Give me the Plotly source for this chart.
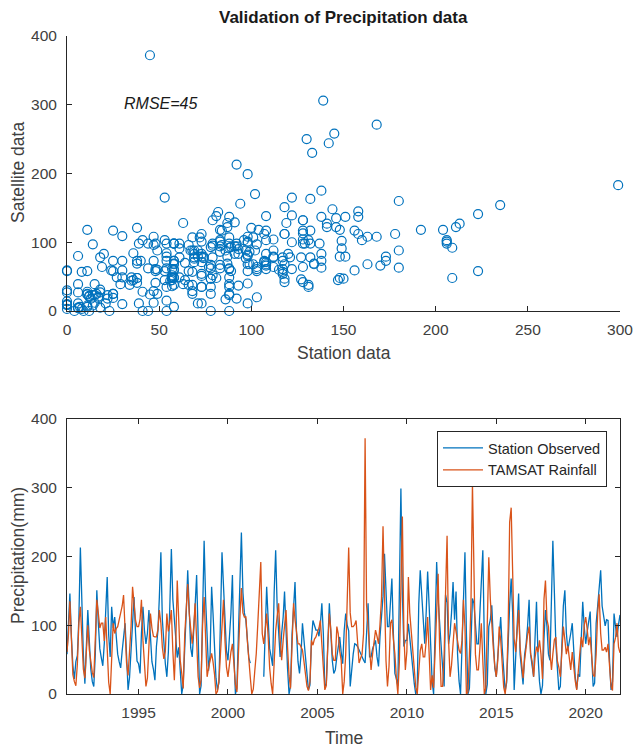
import pandas as pd
import plotly.graph_objects as go

# Monthly rainfall totals (mm), Jan 1991 - Dec 2021, one row per year.
# None = station record missing.
station_mm = [
    58, 97, 146, 83, 41, 22, 47, 56, 112, 213, 117, 57,       # 1991
    15, 68, 122, 77, 36, 18, 11, 58, 151, 104, 66, 53,        # 1992
    41, 74, 118, 170, 86, 54, 127, 96, 112, 79, 58, 47,       # 1993
    38, 63, 82, 103, 57, 6, 24, 61, 94, 141, 88, 48,          # 1994
    44, 30, 88, 127, 93, 73, 88, 122, 84, 47, 36, 20,         # 1995
    69, 92, 141, 206, 108, 73, 44, 25, 61, 128, 211, 138,     # 1996
    103, 74, 53, 68, 27, 0, 14, 83, 119, 180, 108, 67,        # 1997
    54, 88, 128, 173, 78, 0, 12, 98, 223, 138, 68, 34,        # 1998
    57, 156, 118, 68, 23, 6, 17, 108, 206, 158, 97, 63,       # 1999
    49, 78, 117, 173, 58, 0, 8, 87, 158, 235, 148, 118,       # 2000
    107, 69, 53, 45, None, None, None, None, None, None, None, None,  # 2001
    25, 83, 156, 108, 66, 54, 41, 147, 209, 128, 79, 54,      # 2002
    88, 112, 149, 87, 38, 0, 11, 86, 128, 163, 88, 47,        # 2003
    30, 58, 103, 78, 47, 21, 6, 13, 79, 107, 98, 93,          # 2004
    93, 84, 101, 132, 88, 11, 15, 69, 132, 89, 48, 30,        # 2005
    35, 54, 71, 83, 61, 44, 92, 117, 100, 92, 11, 39,         # 2006
    58, 73, 72, 69, 64, 57, 53, 49, 45, 91, 132, 54,          # 2007
    54, 66, 71, 78, 54, 40, 83, 122, 142, 204, 148, 98,       # 2008
    98, 131, 168, 87, 30, 22, 12, 150, 299, 145, 69, 78,      # 2009
    78, 102, 83, 68, 38, 15, 0, 9, 131, 180, 138, 117,        # 2010
    73, 121, 178, 128, 58, 18, 0, 88, 192, 138, 98, 71,       # 2011
    39, 11, 144, 133, 73, 88, 118, 163, 108, 149, 58, 19,     # 2012
    0, 61, 138, 206, 88, 0, 8, 87, 139, 132, 98, 73,          # 2013
    73, 118, 160, 209, 78, 0, 14, 98, 108, 129, 78, 38,       # 2014
    25, 58, 92, 112, 68, 30, 4, 17, 79, 130, 168, 118,        # 2015
    6, 48, 102, 146, 58, 35, 14, 57, 73, 99, 137, 58,         # 2016
    38, 25, 79, 134, 57, 18, 0, 12, 81, 122, 98, 58,          # 2017
    49, 131, 223, 148, 73, 38, 6, 11, 88, 128, 151, 89,       # 2018
    64, 81, 88, 103, 58, 25, 7, 29, 25, 91, 134, 98,          # 2019
    73, 91, 108, 120, 57, 11, 16, 103, 128, 158, 180, 128,    # 2020
    112, 99, 108, 107, 48, 6, 18, 117, 98, 83, 101, 115,      # 2021
]

tamsat_mm = [
    61, 88, 135, 67, 28, 18, 12, 44, 104, 127, 78, 36,        # 1991
    23, 57, 100, 64, 45, 31, 24, 73, 137, 118, 96, 103,       # 1992
    103, 77, 112, 66, 17, 0, 46, 103, 88, 95, 98, 108,        # 1993
    121, 128, 144, 97, 45, 27, 59, 98, 156, 127, 107, 98,     # 1994
    98, 109, 137, 78, 37, 11, 23, 61, 117, 96, 84, 83,        # 1995
    83, 94, 122, 103, 68, 51, 62, 117, 91, 104, 122, 63,      # 1996
    20, 79, 165, 107, 49, 30, 8, 86, 128, 160, 117, 88,       # 1997
    73, 98, 132, 79, 25, 9, 21, 101, 141, 83, 25, 38,         # 1998
    48, 59, 47, 29, 0, 4, 19, 66, 101, 137, 77, 39,           # 1999
    25, 47, 61, 73, 48, 14, 3, 69, 112, 154, 118, 112,        # 2000
    112, 76, 45, 24, 0, 7, 33, 59, 102, 150, 192, 88,         # 2001
    73, 94, 117, 83, 38, 15, 0, 45, 92, 113, 132, 79,         # 2002
    49, 78, 102, 122, 69, 27, 8, 88, 132, 108, 92, 73,        # 2003
    73, 69, 64, 47, 29, 11, 5, 18, 78, 71, 80, 83,            # 2004
    90, 96, 107, 78, 39, 6, 12, 71, 117, 93, 58, 49,          # 2005
    49, 98, 88, 62, 49, 0, 18, 57, 121, 213, 118, 98,         # 2006
    98, 101, 107, 78, 45, 52, 58, 88, 372, 129, 98, 62,       # 2007
    35, 58, 79, 93, 84, 73, 101, 139, 244, 118, 48, 11,       # 2008
    40, 103, 108, 79, 59, 23, 0, 47, 183, 258, 88, 35,        # 2009
    62, 170, 118, 88, 73, 39, 10, 0, 38, 63, 73, 54,          # 2010
    54, 78, 112, 42, 6, 27, 9, 62, 118, 175, 68, 11,          # 2011
    11, 58, 148, 230, 79, 25, 42, 68, 103, 91, 73, 64,        # 2012
    59, 78, 137, 98, 0, 3, 57, 128, 306, 163, 58, 35,         # 2013
    35, 68, 103, 48, 0, 9, 97, 199, 138, 98, 67, 41,          # 2014
    25, 49, 98, 79, 38, 10, 0, 21, 98, 250, 271, 151,         # 2015
    80, 61, 88, 122, 68, 44, 23, 49, 71, 86, 98, 59,          # 2016
    48, 25, 52, 69, 61, 78, 58, 22, 138, 165, 108, 98,        # 2017
    60, 35, 58, 79, 83, 48, 39, 25, 61, 98, 79, 58,           # 2018
    70, 48, 35, 61, 38, 19, 6, 39, 58, 83, 68, 99,            # 2019
    112, 94, 71, 83, 48, 28, 25, 58, 117, 145, 88, 64,        # 2020
    64, 68, 61, 73, 41, 11, 5, 73, 82, 103, 68, 60,           # 2021
]

first_month = "1991-01-01"
scatter_xticks = [0, 50, 100, 150, 200, 250, 300]
value_ticks = [0, 100, 200, 300, 400]
year_ticks = ["1995", "2000", "2005", "2010", "2015", "2020"]
rmse_label = "RMSE=45"

months = pd.date_range(first_month, periods=len(station_mm), freq="MS")

BLUE = "#0072BD"
ORANGE = "#D95319"
AX = "#262626"
TXT = "#404040"
FONT = "Liberation Sans, Arial, Helvetica, sans-serif"

W, H = 634, 749


def px(x):
    return x / W


def py(y):
    return (H - y) / H


fig = go.Figure()

# Scatter: station vs satellite
fig.add_trace(go.Scatter(
    x=station_mm, y=tamsat_mm, mode="markers",
    marker=dict(symbol="circle-open", size=9, color=BLUE, line=dict(width=1.2, color=BLUE)),
    xaxis="x", yaxis="y", cliponaxis=False, showlegend=False,
))

# Time series
fig.add_trace(go.Scatter(
    x=months, y=station_mm, mode="lines", name="Station Observed",
    line=dict(color=BLUE, width=1.3), xaxis="x2", yaxis="y2", connectgaps=False,
))
fig.add_trace(go.Scatter(
    x=months, y=tamsat_mm, mode="lines", name="TAMSAT Rainfall",
    line=dict(color=ORANGE, width=1.3), xaxis="x2", yaxis="y2",
))

common = dict(
    showgrid=False, zeroline=False, showline=True, linecolor=AX, linewidth=1,
    ticks="inside", ticklen=5, tickwidth=1, tickcolor=AX,
    tickfont=dict(family=FONT, size=15.5, color=TXT), automargin=False,
)

x_dom = [px(67), px(620)]

fig.update_layout(
    width=W, height=H,
    margin=dict(l=0, r=0, t=0, b=0),
    paper_bgcolor="white", plot_bgcolor="white",
    font=dict(family=FONT, color=TXT),
    xaxis=dict(domain=x_dom, range=[0, 300], tickvals=scatter_xticks,
               anchor="y", mirror=False, ticklabelstandoff=4, **common),
    yaxis=dict(domain=[py(311), py(36)], range=[0, 400], tickvals=value_ticks,
               anchor="x", mirror=False, ticklabelstandoff=6, **common),
    xaxis2=dict(domain=x_dom, type="date",
                range=[months[0], months[-1]],
                tickvals=[f"{y}-01-01" for y in year_ticks], ticktext=year_ticks,
                anchor="y2", mirror="ticks", ticklabelstandoff=4, **common),
    yaxis2=dict(domain=[py(694), py(419)], range=[0, 400], tickvals=value_ticks,
                anchor="x2", mirror="ticks", ticklabelstandoff=6, **common),
    legend=dict(
        x=px(607), y=py(431), xanchor="right", yanchor="top",
        bgcolor="white", bordercolor=AX, borderwidth=1,
        font=dict(family=FONT, size=14.5, color=AX),
        tracegroupgap=0, itemwidth=40,
    ),
    showlegend=True,
)

ann = [
    dict(text="<b>Validation of Precipitation data</b>", x=px(343.5), y=py(18),
         font=dict(size=17, color="#1a1a1a")),
    dict(text="Station data", x=px(343.5), y=py(353), font=dict(size=17.5)),
    dict(text="Satellite data", x=px(18), y=py(173), textangle=-90, font=dict(size=17.5)),
    dict(text="Precipitation(mm)", x=px(18), y=py(556), textangle=-90, font=dict(size=17.5)),
    dict(text="Time", x=px(343.5), y=py(738), font=dict(size=17.5)),
]
for a in ann:
    fig.add_annotation(xref="paper", yref="paper", showarrow=False,
                       xanchor="center", yanchor="middle", **a)

# RMSE note placed in data coordinates of the scatter panel
fig.add_annotation(text=f"<i>{rmse_label}</i>", x=30, y=302, xref="x", yref="y",
                   xanchor="left", yanchor="middle", showarrow=False,
                   font=dict(family=FONT, size=16, color="#1a1a1a"))

fig.write_html("out.html")
